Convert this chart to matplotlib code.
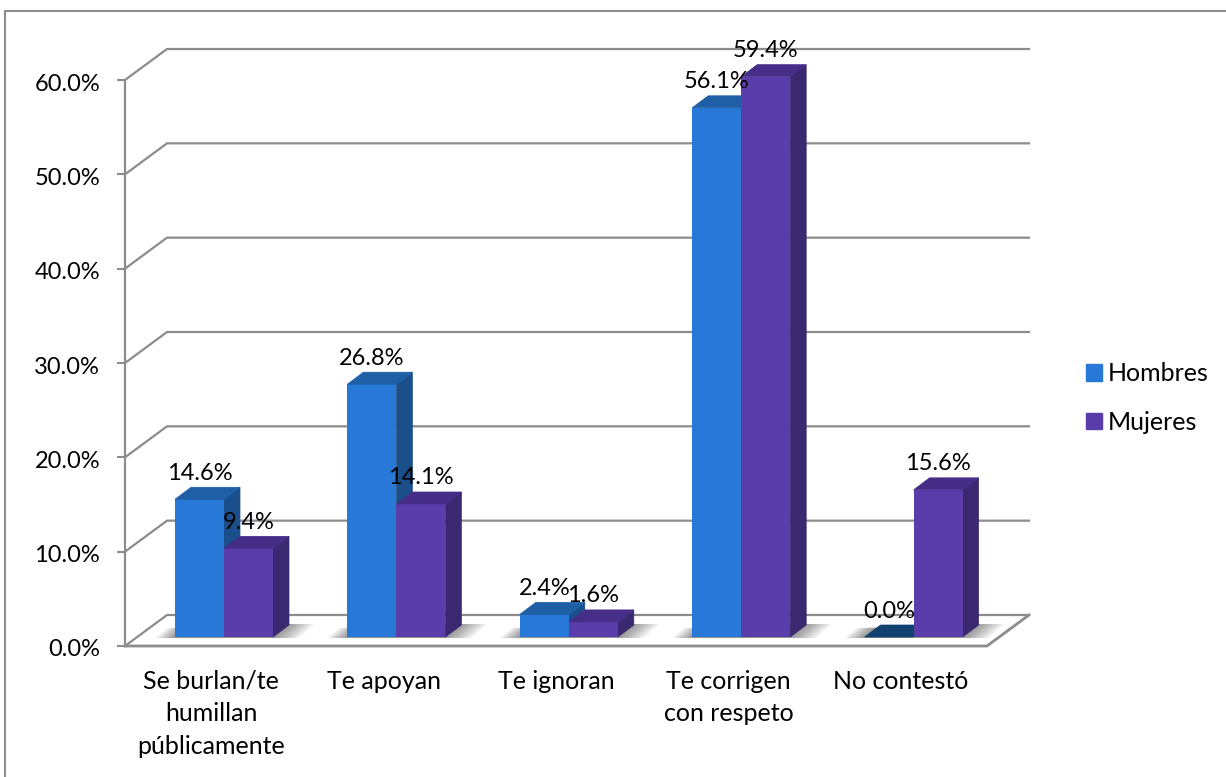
import matplotlib
matplotlib.use('Agg')
import matplotlib.pyplot as plt
from matplotlib.lines import Line2D
from matplotlib.patches import Patch, Polygon
from matplotlib.transforms import ScaledTranslation

categories = ['Se burlan/te\nhumillan\npúblicamente', 'Te apoyan', 'Te ignoran',
              'Te corrigen\ncon respeto', 'No contestó']
hombres = [14.6, 26.8, 2.4, 56.1, 0.0]
mujeres = [9.4, 14.1, 1.6, 59.4, 15.6]
y_ticks = [0, 10, 20, 30, 40, 50, 60]

W, H = 1226, 777
AX_L, AX_R, AX_T, AX_B = 125, 987, 80, 646
PX_X = 5 / (AX_R - AX_L)   # category units per pixel
PX_Y = 60 / (AX_B - AX_T)  # percent per pixel

GRID = '#8c8c8c'
BLUE = ('#2878d8', '#1f5fa6', '#1a4f8c')
PURPLE = ('#5b3cab', '#452d88', '#3a2870')
NUM_SIZE = 17
TEXT_SIZE = 18

plt.rcParams['font.family'] = ['Lato', 'DejaVu Sans']
plt.rcParams['font.size'] = TEXT_SIZE

fig = plt.figure(figsize=(W / 100, H / 100), dpi=100)
ax = fig.add_axes([AX_L / W, 1 - AX_B / H, (AX_R - AX_L) / W, (AX_B - AX_T) / H])
ax.set_xlim(0, 5)
ax.set_ylim(0, 60)
for s in ax.spines.values():
    s.set_visible(False)
ax.patch.set_visible(False)

# outer chart frame
fig.add_artist(Line2D([5 / W, 5 / W, 1], [0, 1 - 11 / H, 1 - 11 / H], color=GRID, lw=1.5))

# walls and floor
wall_dx = 42 * PX_X
wall_dy = 31 * PX_Y
for v in y_ticks:
    ax.plot([0, wall_dx, 5 + wall_dx], [v, v + wall_dy, v + wall_dy],
            color=GRID, lw=1.6, clip_on=False, zorder=1, solid_joinstyle='miter')
ax.plot([0, 0], [0, 60], color=GRID, lw=1.6, clip_on=False, zorder=1)
ax.plot([0, 5, 5 + wall_dx], [0, 0, wall_dy], color=GRID, lw=2, clip_on=False, zorder=1)

ax.set_yticks(y_ticks)
ax.set_yticklabels([f'{v:.1f}%' for v in y_ticks], fontsize=NUM_SIZE)
ax.set_xticks([i + 0.5 for i in range(5)])
ax.set_xticklabels(categories, linespacing=1.52)
ax.tick_params(axis='y', length=6, width=1.5, color=GRID, pad=12)
ax.tick_params(axis='x', length=0, pad=17)
nudge = ScaledTranslation(0, -2 / 100, fig.dpi_scale_trans)
for lab in ax.get_yticklabels():
    lab.set_transform(lab.get_transform() + nudge)

bar_w = 49 * PX_X
group_off = 50 * PX_X
depth_x = 16 * PX_X
depth_y = 12 * PX_Y
base = 9 * PX_Y


def draw_shadow(x0, x1):
    # floor shadow, built up from shrinking translucent layers
    for k in range(12):
        s = k * 1.8
        ax.add_patch(Polygon([
            (x0 + (s - 20) * PX_X, base - 1 * PX_Y),
            (x0 + (s - 8) * PX_X, base + 9 * PX_Y),
            (x1 + depth_x, base + 13 * PX_Y),
            (x1 + (42 - s * 1.4) * PX_X, base + 13 * PX_Y),
            (x1 + (26 - s * 1.4) * PX_X, base - 1 * PX_Y),
        ], closed=True, fc='black', ec='none', alpha=0.045, zorder=2, clip_on=False))


def draw_bar(x, v, colors, z):
    top = base + v
    front, lid, side = colors
    if v > 0:
        ax.add_patch(Polygon([(x + bar_w, base), (x + bar_w + depth_x, base + depth_y),
                              (x + bar_w + depth_x, top + depth_y), (x + bar_w, top)],
                             closed=True, fc=side, ec=side, lw=0.5, zorder=z, clip_on=False))
        ax.bar(x, v, width=bar_w, bottom=base, align='edge', color=front, zorder=z, clip_on=False)
    else:
        lid = '#12406f'
    ax.add_patch(Polygon([(x, top), (x + depth_x, top + depth_y),
                          (x + bar_w + depth_x, top + depth_y), (x + bar_w, top)],
                         closed=True, fc=lid, ec=lid, lw=0.5, zorder=z, clip_on=False))


for i in range(5):
    x0 = i + group_off
    draw_shadow(x0, x0 + 2 * bar_w)
    draw_bar(x0, hombres[i], BLUE, 3 + i * 0.1)
    draw_bar(x0 + bar_w, mujeres[i], PURPLE, 3.05 + i * 0.1)
    ax.text(x0 + bar_w / 2, base + hombres[i] + 26 * PX_Y, f'{hombres[i]:.1f}%',
            ha='center', va='center', fontsize=NUM_SIZE, zorder=5, clip_on=False)
    ax.text(x0 + 1.5 * bar_w, base + mujeres[i] + 26 * PX_Y, f'{mujeres[i]:.1f}%',
            ha='center', va='center', fontsize=NUM_SIZE, zorder=5, clip_on=False)

handles = [Patch(color=BLUE[0], label='Hombres'), Patch(color=PURPLE[0], label='Mujeres')]
fig.legend(handles=handles, loc='center left', bbox_to_anchor=(1086 / W, 1 - 398 / H),
           frameon=False, handlelength=0.64, handleheight=0.64, handletextpad=0.24, labelspacing=1.03,
           borderpad=0, borderaxespad=0)

fig.savefig('out.png', dpi=100)
